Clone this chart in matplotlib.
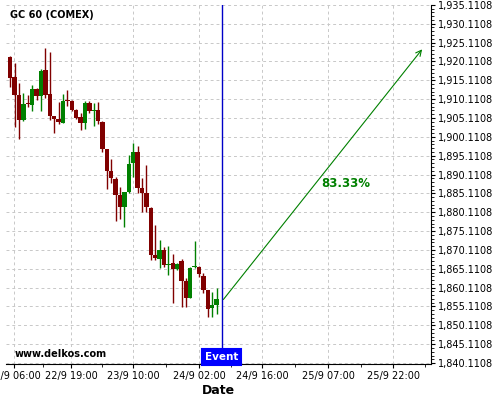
import numpy as np
import matplotlib.pyplot as plt
from matplotlib.ticker import FixedLocator, FuncFormatter

# hourly candles GC 60 (COMEX)
opens = [1921.32, 1915.86, 1911.17, 1904.54, 1908.90, 1908.52, 1912.68, 1910.98,
         1917.80, 1911.44, 1905.60, 1904.73, 1903.83, 1909.84, 1909.58, 1907.19,
         1905.42, 1903.67, 1909.13, 1906.90, 1907.19, 1904.09, 1896.85, 1891.02,
         1888.90, 1884.66, 1881.56, 1885.45, 1893.22, 1896.06, 1886.59, 1885.27,
         1881.29, 1868.75, 1867.77, 1870.08, 1866.00, 1866.71, 1865.12, 1867.16,
         1861.94, 1857.43, 1865.49, 1865.65, 1863.19, 1859.47, 1854.78, 1855.50]
highs = [1921.59, 1919.73, 1914.27, 1911.62, 1911.17, 1913.82, 1913.11, 1918.06,
         1923.55, 1922.49, 1905.70, 1909.39, 1911.36, 1912.50, 1909.84, 1907.50,
         1906.40, 1909.66, 1909.58, 1908.97, 1909.39, 1904.30, 1897.00, 1894.12,
         1889.40, 1886.86, 1885.50, 1895.26, 1898.37, 1897.65, 1889.09, 1892.61,
         1881.40, 1876.63, 1872.73, 1870.95, 1871.14, 1868.94, 1866.60, 1867.61,
         1862.66, 1865.50, 1872.46, 1865.80, 1863.90, 1859.60, 1858.86, 1859.92]
lows = [1913.37, 1902.61, 1899.43, 1904.36, 1908.07, 1907.01, 1909.84, 1907.01,
        1910.30, 1904.54, 1901.02, 1903.40, 1903.70, 1908.25, 1906.90, 1904.80,
        1901.89, 1902.08, 1906.48, 1902.95, 1903.40, 1895.98, 1886.17, 1887.76,
        1877.85, 1878.22, 1876.26, 1885.30, 1889.51, 1885.27, 1880.23, 1880.23,
        1867.43, 1867.43, 1865.23, 1865.65, 1863.45, 1856.11, 1864.90, 1855.05,
        1855.05, 1857.30, 1865.40, 1863.00, 1858.60, 1852.24, 1852.24, 1853.03]
closes = [1915.76, 1911.17, 1904.54, 1908.78, 1908.70, 1912.68, 1910.98, 1917.53,
          1911.17, 1905.68, 1904.73, 1904.09, 1909.58, 1909.58, 1907.19, 1905.15,
          1903.67, 1909.13, 1907.01, 1907.10, 1904.28, 1896.85, 1891.02, 1889.30,
          1884.66, 1881.56, 1885.45, 1892.88, 1896.06, 1886.59, 1885.27, 1881.56,
          1868.75, 1867.88, 1870.08, 1866.10, 1866.20, 1865.12, 1866.50, 1861.94,
          1857.43, 1865.39, 1865.92, 1863.64, 1859.47, 1854.44, 1855.50, 1857.09]

tick_pos = [0.9, 13.8, 28.0, 43.05, 57.3, 72.4, 87.25]
tick_labels = ['22/9 06:00', '22/9 19:00', '23/9 10:00', '24/9 02:00',
               '24/9 16:00', '25/9 07:00', '25/9 22:00']

event_x = 48.15
arrow_from = (48.15, 1856.4)
arrow_to = (94.2, 1923.9)
prob_text = '83.33%'
prob_pos = (76.5, 1887.8)

red = '#800000'
green = '#008000'

fig = plt.figure(figsize=(5, 4), dpi=100)
ax = fig.add_axes([0.012, 0.09, 0.85, 0.898])

# candles
for i in range(len(opens)):
    o, h, l, c = opens[i], highs[i], lows[i], closes[i]
    col = green if c >= o else red
    ax.vlines(i, l, h, color=col, lw=1)
    ax.bar(i, max(abs(c - o), 0.3), bottom=min(o, c), width=1.0,
           color=col, linewidth=0)

ax.set_xlim(-0.98, 95.83)
ax.set_ylim(1839.86, 1935.13)

# event marker
ax.axvline(event_x, color='#0000c8', lw=1)
ax.text(event_x, 1840.3, 'Event', color='white', fontsize=7.5,
        fontweight='bold', ha='center', va='bottom',
        bbox=dict(boxstyle='square,pad=0.3', fc='#0000ff', ec='#0000ff', lw=1.5))

# projection arrow
ax.annotate('', xy=arrow_to, xytext=arrow_from,
            arrowprops=dict(arrowstyle='->', color=green, lw=0.8))
ax.text(prob_pos[0], prob_pos[1], prob_text, color=green, fontsize=8.5,
        fontweight='bold', ha='center', va='center')

# axes styling
ax.yaxis.tick_right()
ax.yaxis.set_major_locator(FixedLocator(np.arange(1840.1108, 1935.2, 5)))
ax.yaxis.set_minor_locator(FixedLocator(np.arange(1840.1108, 1935.2, 1)))
ax.yaxis.set_major_formatter(FuncFormatter(lambda v, p: f'{v:,.4f}'))
ax.set_xticks(tick_pos)
ax.set_xticklabels(tick_labels)
ax.set_xticks([(a + b) / 2 for a, b in zip(tick_pos, tick_pos[1:])] + [94.5], minor=True)
ax.tick_params(axis='both', which='major', labelsize=7, length=3, pad=2)
ax.tick_params(axis='both', which='minor', length=2)
ax.spines['top'].set_visible(False)
ax.spines['left'].set_visible(False)
ax.grid(True, which='major', color='#c8c8c8', linestyle=(0, (3, 3)), lw=0.7)
ax.set_axisbelow(True)
ax.set_xlabel('Date', fontsize=9, fontweight='bold', labelpad=2)

fig.text(0.02, 0.9625, 'GC 60 (COMEX)', fontsize=7, fontweight='bold', va='center')
fig.text(0.03, 0.115, 'www.delkos.com', fontsize=7, fontweight='bold', va='center')

fig.savefig('out.png', dpi=100)
